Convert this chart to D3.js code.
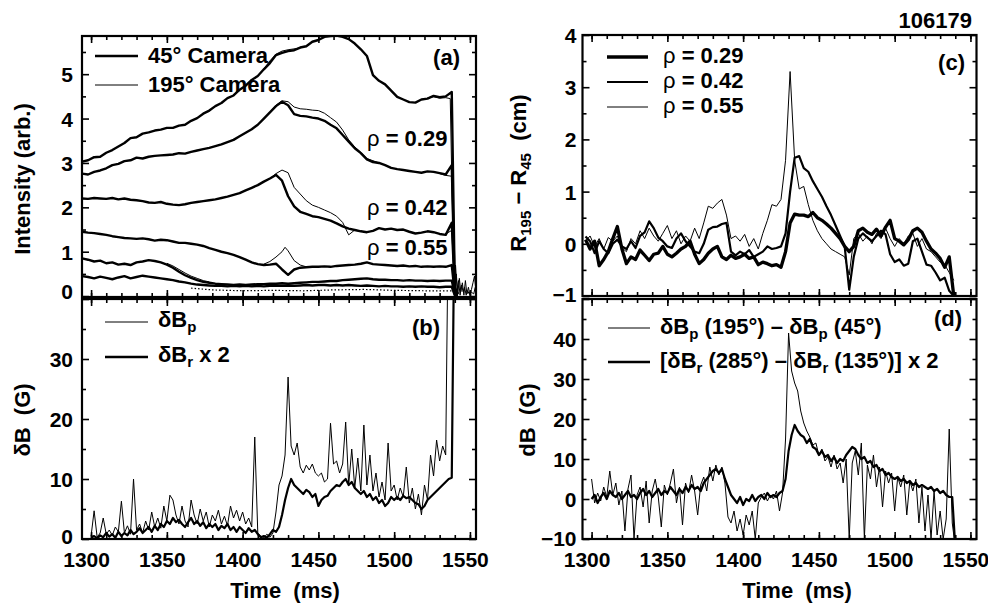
<!DOCTYPE html>
<html>
<head>
<meta charset="utf-8">
<script src="https://cdn.jsdelivr.net/npm/d3@7"></script>
<style>
  body { margin: 0; background: #fff; }
  text { font-family: "Liberation Sans", Arial, Helvetica, sans-serif; font-weight: bold; fill: #000; }
</style>
</head>
<body>
<svg id="chart" width="988" height="607"></svg>
<script>
// shot 106179 - camera intensities, displacement and magnetics

// sampling grids (ms)
const timeA = [...d3.range(1294, 1539, 4), 1540, 1542]
const timeB = d3.range(1300, 1541, 2)
const timeC = d3.range(1296, 1540, 3)
const timeD = d3.range(1300, 1541, 2)
const timeTicks = [1300, 1350, 1400, 1450, 1500, 1550]

// (a) intensity, 45 deg camera
const camTop = [
  3.03, 3.06, 3.13, 3.14, 3.23, 3.29, 3.37, 3.45, 3.56, 3.58,
  3.66, 3.69, 3.73, 3.75, 3.79, 3.79, 3.84, 3.86, 3.95, 4.01,
  4.11, 4.18, 4.28, 4.35, 4.46, 4.52, 4.65, 4.74, 4.87, 4.96,
  5.11, 5.25, 5.43, 5.48, 5.52, 5.54, 5.60, 5.63, 5.73, 5.77,
  5.84, 5.86, 5.87, 5.84, 5.79, 5.69, 5.56, 5.41, 4.98, 4.85,
  4.77, 4.63, 4.49, 4.43, 4.37, 4.36, 4.43, 4.45, 4.51, 4.48,
  4.50, 4.60, 0.20, 0.05
]
const camRho29 = [
  2.76, 2.74, 2.80, 2.83, 2.88, 2.95, 2.98, 3.04, 3.06, 3.12,
  3.10, 3.14, 3.16, 3.17, 3.18, 3.19, 3.22, 3.21, 3.25, 3.28,
  3.31, 3.34, 3.38, 3.42, 3.47, 3.52, 3.60, 3.68, 3.76, 3.86,
  4.00, 4.14, 4.28, 4.38, 4.30, 4.10, 4.06, 4.05, 4.02, 4.00,
  3.95, 3.86, 3.78, 3.63, 3.48, 3.33, 3.22, 3.08, 3.02, 3.00,
  2.95, 2.89, 2.86, 2.84, 2.82, 2.80, 2.78, 2.81, 2.80, 2.77,
  2.74, 2.95, 0.15, 0.05
]
const camRho42 = [
  2.20, 2.19, 2.21, 2.20, 2.19, 2.21, 2.18, 2.20, 2.17, 2.16,
  2.14, 2.11, 2.10, 2.12, 2.08, 2.06, 2.05, 2.07, 2.10, 2.12,
  2.14, 2.16, 2.18, 2.21, 2.24, 2.28, 2.32, 2.38, 2.44, 2.50,
  2.58, 2.65, 2.73, 2.60, 2.25, 2.02, 1.90, 1.85, 1.80, 1.78,
  1.74, 1.70, 1.64, 1.57, 1.52, 1.49, 1.46, 1.44, 1.47, 1.53,
  1.50, 1.52, 1.49, 1.50, 1.45, 1.41, 1.43, 1.46, 1.44, 1.40,
  1.38, 1.65, 0.10, 0.05
]
const camRho55 = [
  1.45, 1.43, 1.42, 1.40, 1.38, 1.35, 1.33, 1.31, 1.30, 1.29,
  1.30, 1.28, 1.25, 1.27, 1.26, 1.23, 1.20, 1.20, 1.18, 1.16,
  1.13, 1.08, 1.04, 1.00, 0.97, 0.93, 0.88, 0.82, 0.76, 0.72,
  0.70, 0.71, 0.73, 0.60, 0.48, 0.60, 0.64, 0.65, 0.66, 0.66,
  0.67, 0.66, 0.68, 0.69, 0.70, 0.71, 0.73, 0.76, 0.72, 0.71,
  0.70, 0.69, 0.68, 0.69, 0.67, 0.68, 0.66, 0.67, 0.66, 0.67,
  0.66, 0.70, 0.05, 0.02
]
const camLow1 = [
  0.85, 0.82, 0.78, 0.80, 0.74, 0.76, 0.71, 0.73, 0.70, 0.76,
  0.78, 0.81, 0.79, 0.76, 0.71, 0.64, 0.55, 0.47, 0.41, 0.36,
  0.32, 0.30, 0.28, 0.27, 0.26, 0.25, 0.26, 0.25, 0.26, 0.27,
  0.27, 0.28, 0.28, 0.29, 0.28, 0.29, 0.30, 0.31, 0.32, 0.32,
  0.33, 0.34, 0.34, 0.36, 0.37, 0.38, 0.39, 0.40, 0.38, 0.37,
  0.37, 0.36, 0.36, 0.35, 0.36, 0.35, 0.35, 0.34, 0.35, 0.34,
  0.35, 0.35, 0.05, 0.02
]
const camLow2 = [
  0.45, 0.43, 0.40, 0.44, 0.41, 0.38, 0.42, 0.45, 0.40, 0.43,
  0.46, 0.44, 0.42, 0.40, 0.38, 0.36, 0.33, 0.31, 0.28, 0.26,
  0.25, 0.24, 0.23, 0.23, 0.22, 0.23, 0.22, 0.23, 0.22, 0.23,
  0.22, 0.23, 0.24, 0.23, 0.24, 0.23, 0.24, 0.25, 0.24, 0.25,
  0.25, 0.24, 0.25, 0.24, 0.25, 0.24, 0.23, 0.24, 0.23, 0.22,
  0.23, 0.22, 0.22, 0.21, 0.22, 0.21, 0.22, 0.21, 0.21, 0.20,
  0.21, 0.21, 0.02, 0.01
]
// 195 deg camera, only the stretches where it leaves the 45 deg trace
const cam195TopPeak = [[1414, 5.12], [1418, 5.30], [1422, 5.45], [1426, 5.52], [1430, 5.55], [1434, 5.57], [1438, 5.59]]
const cam195TopEnd = [[1522, 4.47], [1526, 4.49], [1530, 4.46], [1534, 4.47], [1537, 4.45], [1539.5, 0.1]]
const cam195Rho29Peak = [[1418, 4.14], [1422, 4.30], [1426, 4.40], [1430, 4.38], [1434, 4.26], [1438, 4.22],
  [1442, 4.21], [1446, 4.19], [1450, 4.18], [1454, 4.12], [1458, 4.02], [1462, 3.92], [1466, 3.74],
  [1470, 3.52], [1474, 3.36], [1478, 3.24], [1482, 3.10], [1486, 3.05], [1490, 3.00]]
const cam195Rho29End = [[1530, 2.76], [1534, 2.72], [1538, 2.70], [1540, 0.1]]
const cam195Rho42Peak = [[1418, 2.65], [1422, 2.76], [1426, 2.84], [1430, 2.78], [1434, 2.45], [1438, 2.30],
  [1442, 2.15], [1446, 2.05], [1450, 2.00], [1454, 1.94], [1458, 1.88], [1462, 1.80], [1466, 1.66],
  [1470, 1.38], [1474, 1.49], [1478, 1.46]]
const cam195Rho42End = [[1534, 1.40], [1538, 1.48], [1540, 0.1]]
const cam195Rho55 = [[1414, 0.72], [1418, 0.78], [1422, 0.88], [1426, 1.00], [1428, 1.10], [1430, 1.02],
  [1434, 0.80], [1438, 0.70], [1442, 0.66]]
const cam195Low1 = [[1350, 0.74], [1354, 0.68], [1358, 0.60], [1362, 0.52], [1366, 0.45], [1370, 0.40],
  [1374, 0.35], [1378, 0.32]]
const camDotted = [[1366, 0.18], [1380, 0.14], [1400, 0.12], [1420, 0.13], [1440, 0.12], [1460, 0.14],
  [1480, 0.15], [1500, 0.13], [1520, 0.12], [1538, 0.12]]
const camPost1 = [[1539, 0.6], [1540, 0.1], [1541, 0.5], [1542, 0.05], [1543, 0.4], [1544, 0.1], [1545, 0.3],
  [1546, 0.02], [1547, 0.35], [1548, 0.05], [1549, 0.2], [1550, 0.02], [1551, 0.15], [1552, 0.3], [1553, 0.45], [1554, 0.1]]
const camPost2 = [[1539.5, 0.3], [1540.5, 0.7], [1541.5, 0.15], [1542.5, 0.35], [1543.5, 0.02], [1544.5, 0.25],
  [1545.5, 0.1], [1546.5, 0.2], [1547.5, 0.02], [1548.5, 0.12], [1549.5, 0.05], [1550.5, 0.1], [1552.5, 0.05], [1553.5, 0.2]]

// (b) magnetics (G)
const dBp = [
  0.5, 4.7, 0.3, 1.0, 3.5, 0.8, 1.5, 0.6, 2.0, 1.2,
  6.3, 1.0, 2.2, 0.8, 10.0, 1.5, 2.5, 1.0, 3.0, 1.5,
  4.5, 2.0, 3.5, 1.8, 5.5, 3.0, 7.3, 6.5, 4.0, 2.5,
  5.5, 3.0, 2.0, 6.5, 4.0, 2.5, 5.0, 3.0, 4.5, 2.0,
  4.0, 3.0, 4.8, 2.5, 3.8, 2.2, 5.5, 3.5, 4.8, 3.0,
  4.5, 2.5, 3.5, 2.0, 17.0, 1.0, 0.5, 0.2, 0.8, 0.3,
  1.0, 4.5, 9.0, 10.5, 14.0, 27.0, 15.5, 14.0, 16.0, 12.0,
  11.0, 12.3, 11.5, 12.5, 11.0, 10.5, 11.0, 9.5, 10.0, 19.3,
  12.5, 13.0, 11.0, 12.5, 19.5, 9.0, 15.0, 8.5, 13.5, 8.0,
  19.0, 9.0, 14.0, 8.0, 11.0, 7.0, 9.5, 6.5, 16.0, 8.0,
  9.0, 6.5, 8.5, 7.0, 12.0, 6.0, 8.5, 5.0, 7.5, 4.0,
  9.0, 6.5, 14.0, 10.5, 16.5, 13.0, 15.5, 14.0, 60, 60,
  60
]
const dBr2 = [
  0.2, 0.5, 0.1, 0.6, 0.3, 1.0, 0.4, 0.8, 0.2, 1.2,
  0.5, 1.0, 0.6, 1.5, 0.8, 1.2, 1.8, 1.0, 1.5, 2.0,
  1.2, 2.2, 1.5, 2.5, 2.0, 3.0, 2.5, 3.5, 2.8, 3.2,
  2.5, 2.0, 2.8, 3.5, 2.5, 3.0, 2.2, 2.8, 1.8, 2.5,
  2.0, 2.5, 1.5, 2.2, 1.8, 2.5, 1.5, 2.0, 1.2, 2.0,
  1.5, 1.0, 1.8, 1.2, 1.5, 0.8, 0.3, 0.5, 0.2, 0.8,
  1.5, 1.2, 2.0, 4.0, 6.5, 8.5, 10.0, 9.0, 8.5, 8.0,
  7.5, 8.2, 7.8, 7.0, 7.5, 5.5, 6.5, 7.0, 7.2, 8.0,
  8.5, 9.0, 8.8, 9.5, 10.0, 9.0, 9.5, 8.5, 8.0, 7.5,
  8.0, 7.0, 7.5, 6.5, 7.0, 6.0, 6.5, 5.5, 6.0, 7.0,
  6.5, 7.0, 6.5, 7.2, 6.8, 7.0, 6.5, 6.0, 5.8, 5.0,
  5.5, 6.5, 7.0, 7.5, 8.0, 8.5, 9.0, 9.5, 10.0, 10.2,
  60
]

// (c) R195 - R45 (cm)
const dispRho29 = [
  0.08, -0.10, 0.05, -0.42, -0.30, -0.15, 0.10, 0.33, -0.10, -0.38,
  -0.25, -0.30, -0.12, -0.22, -0.32, -0.20, -0.18, -0.05, -0.20, -0.25,
  -0.18, -0.10, -0.05, 0.05, -0.20, -0.38, -0.30, -0.18, -0.10, -0.05,
  -0.25, -0.30, -0.22, -0.28, -0.25, -0.20, -0.28, -0.25, -0.40, -0.35,
  -0.38, -0.42, -0.40, -0.45, -0.15, 0.40, 0.57, 0.55, 0.55, 0.52,
  0.60, 0.50, 0.45, 0.38, 0.30, 0.20, 0.10, -0.05, -0.15, -0.05,
  0.25, 0.30, 0.22, 0.18, 0.28, 0.15, 0.32, 0.45, 0.10, 0.05,
  -0.02, 0.08, 0.25, 0.30, 0.22, 0.05, -0.10, -0.18, -0.28, -0.45,
  -0.25, -1.00
]
const dispRho42 = [
  0.14, 0.05, -0.18, 0.05, -0.10, -0.18, 0.00, 0.08, -0.05, -0.10,
  0.05, -0.08, 0.15, 0.22, 0.43, 0.30, 0.12, 0.05, -0.05, -0.08,
  0.10, 0.20, 0.05, -0.05, -0.15, -0.18, 0.00, 0.27, 0.32, 0.33,
  0.38, 0.40, -0.15, -0.22, -0.15, -0.20, -0.12, -0.25, -0.20, -0.15,
  -0.05, -0.10, -0.08, -0.05, 0.20, 1.00, 1.65, 1.68, 1.45, 1.38,
  1.20, 1.05, 0.90, 0.72, 0.55, 0.35, 0.15, -0.05, -0.88, -0.25,
  0.10, 0.20, 0.12, 0.05, 0.15, 0.25, 0.18, -0.20, -0.35, -0.30,
  -0.42, -0.38, 0.05, 0.10, -0.15, -0.40, -0.42, -0.55, -0.70, -0.65,
  -0.90, -1.00
]
const dispRho55 = [
  0.05, 0.15, -0.05, 0.10, -0.10, 0.12, 0.05, 0.15, -0.08, -0.15,
  0.10, 0.00, 0.25, 0.10, 0.30, 0.15, 0.05, 0.20, 0.35, 0.10,
  0.25, 0.00, 0.15, 0.05, 0.30, 0.10, 0.40, 0.72, 0.68, 0.78,
  0.85, 0.55, 0.10, 0.15, 0.05, 0.18, -0.05, 0.10, -0.10, 0.20,
  0.45, 0.75, 0.72, 0.85, 1.60, 3.30, 1.60, 1.05, 1.10, 0.75,
  0.45, 0.25, 0.10, 0.00, -0.10, -0.15, -0.20, -0.25, -0.60, 0.10,
  0.20, 0.05, 0.15, 0.00, 0.20, 0.10, 0.30, 0.10, -0.05, 0.10,
  0.00, 0.15, 0.20, -0.05, 0.10, -0.10, -0.15, -0.25, -0.35, -0.40,
  -0.55, -0.70
]

// (d) toroidal differences (G)
const diffBp = [
  5.0, -1.0, 1.5, -0.5, 3.0, 0.5, 7.0, 1.0, 4.0, -1.5,
  2.0, -8.0, 2.5, 6.0, -10.0, 1.0, 3.0, -2.0, 4.5, -6.0,
  2.0, 5.0, 0.5, -7.0, 3.5, 1.0, 4.0, 7.5, -1.0, 3.0,
  -6.5, 4.0, 1.5, 6.0, 2.0, -4.0, 3.5, 5.5, 2.0, 8.0,
  4.5, 8.5, 6.0, 8.0, 4.0, -4.5, -6.0, -3.0, -8.0, -5.0,
  -9.0, -4.0, -6.5, -3.0, -10.0, -1.0, 0.5, 1.5, -0.5, 1.0,
  0.0, 2.0, -3.0, 1.5, 15.0, 41.5, 32.0, 29.0, 27.0, 22.0,
  19.0, 17.0, 15.5, 13.5, 14.0, 11.0, 12.5, 9.5, 10.5, 8.0,
  11.0, 7.5, 9.0, 4.0, 10.0, -10.0, 9.0, 12.0, 6.0, 14.0,
  -10.0, 8.5, 5.0, 11.0, 3.0, 8.0, -2.0, 7.0, 4.0, 6.5,
  -3.0, 5.5, 3.0, 6.0, -4.0, 4.5, 2.0, 5.0, -6.0, 3.0,
  -8.0, 1.0, -10.0, 2.0, -9.0, -3.0, -10.0, -5.0, 17.5, -6.0,
  -12
]
const diffBr2 = [
  0.0, 1.0, -1.0, 0.5, 1.5, 0.0, 2.0, 1.0, 0.5, 1.5,
  0.0, 1.0, 2.0, 0.5, 1.0, 0.0, 1.5, 2.5, 1.0, 2.0,
  0.5, 1.5, 2.5, 1.0, 2.0, 1.5, 3.0, 2.0, 1.0, 2.5,
  1.5, 3.0, 2.0, 3.5, 2.5, 3.0, 2.0, 4.0, 5.0, 6.0,
  7.0, 7.5, 6.5, 7.5, 5.0, 3.0, 1.0, 0.0, -1.0, 0.5,
  -1.5, 0.0, -0.5, 1.0, -0.5, 0.5, 1.0, 0.0, 1.5, 0.5,
  1.0, 0.5, 1.5, 2.0, 5.0, 12.0, 16.0, 18.5, 17.0, 16.0,
  15.5, 14.0, 15.0, 13.0, 12.5, 11.0, 12.0, 10.5, 11.0, 9.5,
  10.5, 9.0, 10.0, 9.5, 11.0, 12.0, 13.0, 12.5, 11.0, 10.0,
  10.5, 9.0, 9.5, 8.0, 8.5, 7.0, 7.5, 6.0, 6.5, 5.5,
  5.0, 5.5, 4.5, 5.0, 4.0, 4.5, 3.5, 4.0, 3.0, 3.5,
  3.0, 2.5, 3.0, 2.0, 2.5, 1.5, 2.0, 1.0, 0.5, 0.5,
  -12
]

const svg = d3.select('#chart')
const zip = (ts, vs) => ts.map((t, i) => [t, vs[i]])

function makePanel(id, box, yDomain) {
  const x = d3.scaleLinear().domain([1294, 1554]).range([box.x0, box.x1])
  const y = d3.scaleLinear().domain(yDomain).range([box.y1, box.y0])
  svg.append('clipPath').attr('id', 'clip-' + id)
    .append('rect')
    .attr('x', box.x0).attr('y', box.y0)
    .attr('width', box.x1 - box.x0).attr('height', box.y1 - box.y0)
  const plot = svg.append('g').attr('clip-path', `url(#clip-${id})`)
  return { x, y, plot, box }
}

function styleAxis(g) {
  g.select('.domain').remove()
  g.attr('font-family', null).attr('font-size', null)
  g.selectAll('line').attr('stroke', '#000').attr('stroke-width', 1.6)
  g.selectAll('text').style('font-size', '21px')
}

// ticks point inward on all four sides; labels on the left and (optionally) bottom
function drawAxes(p, yMajor, yMinor, yLabels, xLabels, pad, lowDy) {
  const { x, y, box } = p
  const xMinor = d3.range(1300, 1555, 10)
  const tick = (axis, vals, len, tx, ty, fmt) => {
    const g = svg.append('g').attr('transform', `translate(${tx},${ty})`)
      .call(axis.tickValues(vals).tickSize(-len).tickPadding(pad).tickFormat(fmt || ''))
    styleAxis(g)
    return g
  }
  tick(d3.axisLeft(y), yMinor, 4, box.x0, 0)
  tick(d3.axisRight(y), yMinor, 4, box.x1, 0)
  tick(d3.axisTop(x), xMinor, 4, 0, box.y0)
  tick(d3.axisBottom(x), xMinor, 4, 0, box.y1)
  tick(d3.axisRight(y), yMajor, 7, box.x1, 0)
  tick(d3.axisTop(x), timeTicks, 7, 0, box.y0)
  const left = tick(d3.axisLeft(y), yMajor, 7, box.x0, 0, d => yLabels.includes(d) ? d3.format('')(d) : '')
  const low = d3.min(yLabels)
  left.selectAll('text').attr('dy', d => d === low ? lowDy : '0.36em')
  const bottom = tick(d3.axisBottom(x), timeTicks, 7, 0, box.y1, xLabels ? d3.format('') : '')
  bottom.selectAll('text').attr('y', 13).attr('dx', -5)
  svg.append('rect')
    .attr('x', box.x0).attr('y', box.y0)
    .attr('width', box.x1 - box.x0).attr('height', box.y1 - box.y0)
    .attr('fill', 'none').attr('stroke', '#000').attr('stroke-width', 2.2)
}

function drawLine(p, pts, width, dash) {
  p.plot.append('path')
    .datum(pts)
    .attr('d', d3.line().x(d => p.x(d[0])).y(d => p.y(d[1])))
    .attr('fill', 'none')
    .attr('stroke', '#000')
    .attr('stroke-width', width)
    .attr('stroke-linejoin', 'round')
    .attr('stroke-dasharray', dash || null)
}

// text with optional subscripts; parts: [string, 'sub'|'thin'|undefined]
function richText(x, y, parts, opts = {}) {
  const t = svg.append('text')
    .attr('transform', `translate(${x},${y})` + (opts.rotate ? ` rotate(${opts.rotate})` : ''))
    .attr('text-anchor', opts.anchor || 'start')
    .style('font-size', (opts.size || 22) + 'px')
  let shifted = false
  parts.forEach(([s, kind]) => {
    const sp = t.append('tspan').text(s)
    if (kind === 'sub') {
      sp.attr('dy', 5).style('font-size', '15px')
      shifted = true
    } else if (shifted) {
      sp.attr('dy', -5)
      shifted = false
    }
    if (kind === 'thin') sp.style('font-weight', 'normal')
  })
  return t
}

function legendLine(x1, x2, y, width) {
  svg.append('line').attr('x1', x1).attr('x2', x2).attr('y1', y).attr('y2', y)
    .attr('stroke', '#000').attr('stroke-width', width)
}

// ---------- panel (a)
const pA = makePanel('a', { x0: 82, x1: 476, y0: 36, y1: 297 }, [-0.02, 5.86])
;[camTop, camRho29, camRho42, camRho55, camLow1, camLow2].forEach(v => drawLine(pA, zip(timeA, v), 2.4))
;[cam195TopPeak, cam195TopEnd, cam195Rho29Peak, cam195Rho29End, cam195Rho42Peak, cam195Rho42End,
  cam195Rho55, cam195Low1].forEach(v => drawLine(pA, v, 1))
drawLine(pA, camDotted, 1.2, '1.5,2')
drawLine(pA, camPost1, 1)
drawLine(pA, camPost2, 1)
drawAxes(pA, [0, 1, 2, 3, 4, 5], d3.range(0.5, 5.9, 1), [0, 1, 2, 3, 4, 5], false, 9, '0.1em')
legendLine(95, 138, 56, 2.6)
richText(148, 63, [['45° Camera']])
legendLine(95, 138, 85, 1)
richText(148, 92, [['195° Camera']])
richText(460, 65, [['(a)']], { anchor: 'end' })
richText(367, 146, [['ρ', 'thin'], [' = 0.29']])
richText(367, 215, [['ρ', 'thin'], [' = 0.42']])
richText(367, 255, [['ρ', 'thin'], [' = 0.55']])
richText(30, 179, [['Intensity (arb.)']], { rotate: -90, anchor: 'middle' })

// ---------- panel (b)
const pB = makePanel('b', { x0: 82, x1: 476, y0: 299, y1: 539 }, [0, 40])
drawLine(pB, zip(timeB, dBp), 1)
drawLine(pB, zip(timeB, dBr2), 2.2)
drawAxes(pB, [0, 10, 20, 30, 40], d3.range(5, 40, 10), [0, 10, 20, 30], true, 9, '0.22em')
legendLine(105, 148, 322, 1)
richText(158, 327, [['δB'], ['p', 'sub']])
legendLine(105, 148, 357, 2.4)
richText(158, 362, [['δB'], ['r', 'sub'], [' x 2']])
richText(440, 335, [['(b)']], { anchor: 'end' })
richText(30, 420, [['δB\u00a0 (G)']], { rotate: -90, anchor: 'middle' })
richText(285, 598, [['Time\u00a0 (ms)']], { anchor: 'middle' })

// ---------- panel (c)
const pC = makePanel('c', { x0: 582.5, x1: 976.5, y0: 35, y1: 296 }, [-1, 4])
drawLine(pC, zip(timeC, dispRho55), 1)
drawLine(pC, zip(timeC, dispRho42), 2.2)
drawLine(pC, zip(timeC, dispRho29), 3.3)
drawAxes(pC, [-1, 0, 1, 2, 3, 4], d3.range(-0.5, 4, 1), [-1, 0, 1, 2, 3, 4], false, 6, '0.26em')
legendLine(607, 648, 57, 3.4)
richText(663, 63, [['ρ', 'thin'], [' = 0.29']])
legendLine(607, 648, 82, 2.2)
richText(663, 88, [['ρ', 'thin'], [' = 0.42']])
legendLine(607, 648, 107, 1)
richText(663, 113, [['ρ', 'thin'], [' = 0.55']])
richText(965, 70, [['(c)']], { anchor: 'end' })
richText(972, 28, [['106179']], { anchor: 'end' })
richText(526, 173, [['R'], ['195', 'sub'], [' \u2212 R'], ['45', 'sub'], ['\u00a0 (cm)']], { rotate: -90, anchor: 'middle' })

// ---------- panel (d)
const pD = makePanel('d', { x0: 582.5, x1: 976.5, y0: 299, y1: 539 }, [-10, 50])
drawLine(pD, zip(timeD, diffBp), 1)
drawLine(pD, zip(timeD, diffBr2), 2.2)
drawAxes(pD, [-10, 0, 10, 20, 30, 40, 50], d3.range(-5, 50, 10), [-10, 0, 10, 20, 30, 40], true, 6, '0.3em')
legendLine(608, 650, 328, 1)
richText(660, 334, [['δB'], ['p', 'sub'], [' (195°) \u2013 δB'], ['p', 'sub'], [' (45°)']])
legendLine(608, 650, 362, 2.4)
richText(660, 368, [['[δB'], ['r', 'sub'], [' (285°) \u2013 δB'], ['r', 'sub'], [' (135°)] x 2']])
richText(962, 326, [['(d)']], { anchor: 'end' })
richText(535, 420, [['dB\u00a0 (G)']], { rotate: -90, anchor: 'middle' })
richText(797, 598, [['Time\u00a0 (ms)']], { anchor: 'middle' })
</script>
</body>
</html>
